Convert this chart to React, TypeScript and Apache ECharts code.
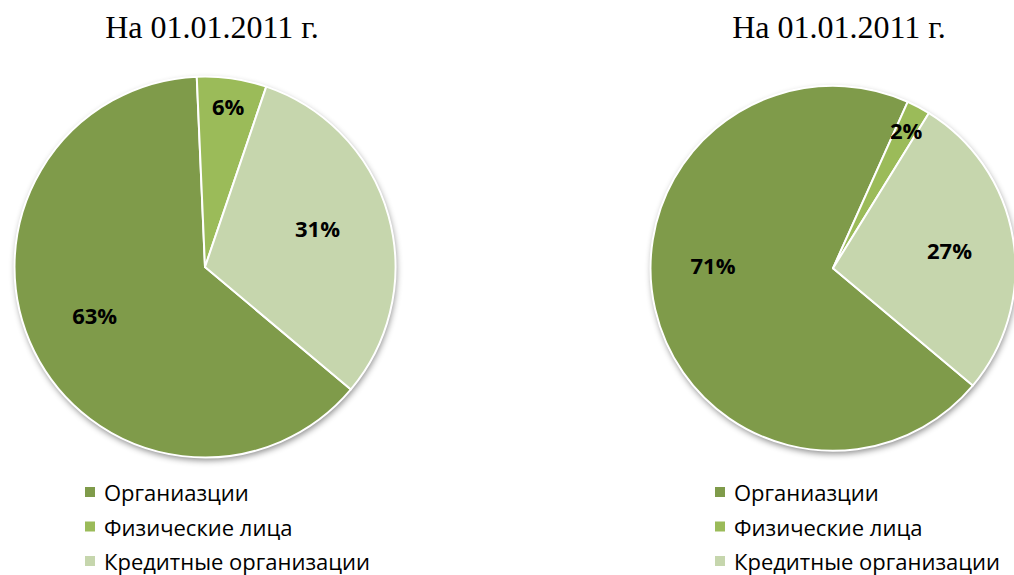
import React, { useEffect, useRef } from "react";
import * as echarts from "echarts";

const categories = ["Органиазции", "Физические лица", "Кредитные организации"];
const sliceColors = ["#7F9B4A", "#9BBB59", "#C6D6AD"];
const leftTitle = "На 01.01.2011 г.";
const rightTitle = "На 01.01.2011 г.";
const leftValues = [63.2, 5.9, 30.9];
const rightValues = [70.6, 2.1, 27.3];
const smallSlice = [false, true, false];

const START = -40;

function makePie(values: number[], center: number[], r: number, id: string, nudge?: (i: number) => any) {
  const main = {
    type: "pie",
    id: id + "-main",
    center,
    radius: r,
    startAngle: START,
    clockwise: true,
    silent: true,
    z: 2,
    label: { show: false },
    labelLine: { show: false },
    itemStyle: { borderColor: "#ffffff", borderWidth: 2 },
    data: categories.map((name, i) => ({
      name,
      value: values[i],
      itemStyle: { color: sliceColors[i] },
    })),
  };
  const backdrop = {
    type: "pie",
    id: id + "-shadow",
    center,
    radius: r,
    silent: true,
    z: 1,
    label: { show: false },
    labelLine: { show: false },
    itemStyle: {
      color: "#ffffff",
      shadowBlur: 6,
      shadowOffsetX: 1,
      shadowOffsetY: 3,
      shadowColor: "rgba(0,0,0,0.45)",
    },
    data: [{ value: 1, name: "" }],
  };
  const labelStyle = {
    show: true,
    position: "inside",
    fontFamily: "Open Sans",
    fontWeight: "bold",
    fontSize: 22,
    color: "#000000",
    formatter: (p: any) => Math.round(p.percent) + "%",
  };
  const labelSeries = (inner: number, small: boolean) => ({
    type: "pie",
    id: id + (small ? "-lblS" : "-lblB"),
    center,
    radius: [inner, r],
    startAngle: START,
    clockwise: true,
    silent: true,
    z: 3,
    labelLine: { show: false },
    itemStyle: { color: "rgba(0,0,0,0)", borderWidth: 0 },
    label: labelStyle,
    labelLayout: nudge ? (p: any) => nudge(p.dataIndex) : undefined,
    data: categories.map((name, i) => ({
      name,
      value: values[i],
      label: { show: smallSlice[i] === small },
    })),
  });
  return [backdrop, main, labelSeries(r * 0.26, false), labelSeries(r * 0.68, true)];
}

export default function App() {
  const ref = useRef<HTMLDivElement>(null);
  useEffect(() => {
    if (!ref.current) return;
    const chart = echarts.init(ref.current, undefined, { renderer: "svg" });
    const titleStyle = {
      fontFamily: "Liberation Serif",
      fontSize: 32,
      fontWeight: "normal",
      color: "#000000",
    };
    const legendBase = {
      orient: "vertical",
      top: 481,
      height: 200,
      padding: 0,
      data: categories,
      icon: "rect",
      itemWidth: 12,
      itemHeight: 12,
      itemGap: 12.5,
      selectedMode: false,
      textStyle: {
        fontFamily: "Open Sans",
        fontSize: 22,
        color: "#000000",
        padding: [0, 0, 0, 3],
      },
    };
    chart.setOption({
      animation: false,
      backgroundColor: "#ffffff",
      title: [
        { text: leftTitle, left: 212, top: 11, padding: 0, textAlign: "center", textStyle: titleStyle },
        { text: rightTitle, left: 839, top: 11, padding: 0, textAlign: "center", textStyle: titleStyle },
      ],
      legend: [
        { ...legendBase, left: 83 },
        { ...legendBase, left: 713 },
      ],
      series: [
        ...makePie(leftValues, [205, 267], 190.5, "L", (i: number) =>
          i === 0 ? { dy: -6 } : i === 2 ? { dx: -6, dy: -6 } : {}
        ),
        ...makePie(rightValues, [833, 268.3], 182.5, "R", (i: number) =>
          i === 0 ? { dx: -5, dy: -30 } : {}
        ),
      ],
    });
    return () => chart.dispose();
  }, []);
  return (
    <div
      ref={ref}
      style={{ position: "fixed", left: 0, top: 0, width: 1014, height: 575 }}
    />
  );
}
